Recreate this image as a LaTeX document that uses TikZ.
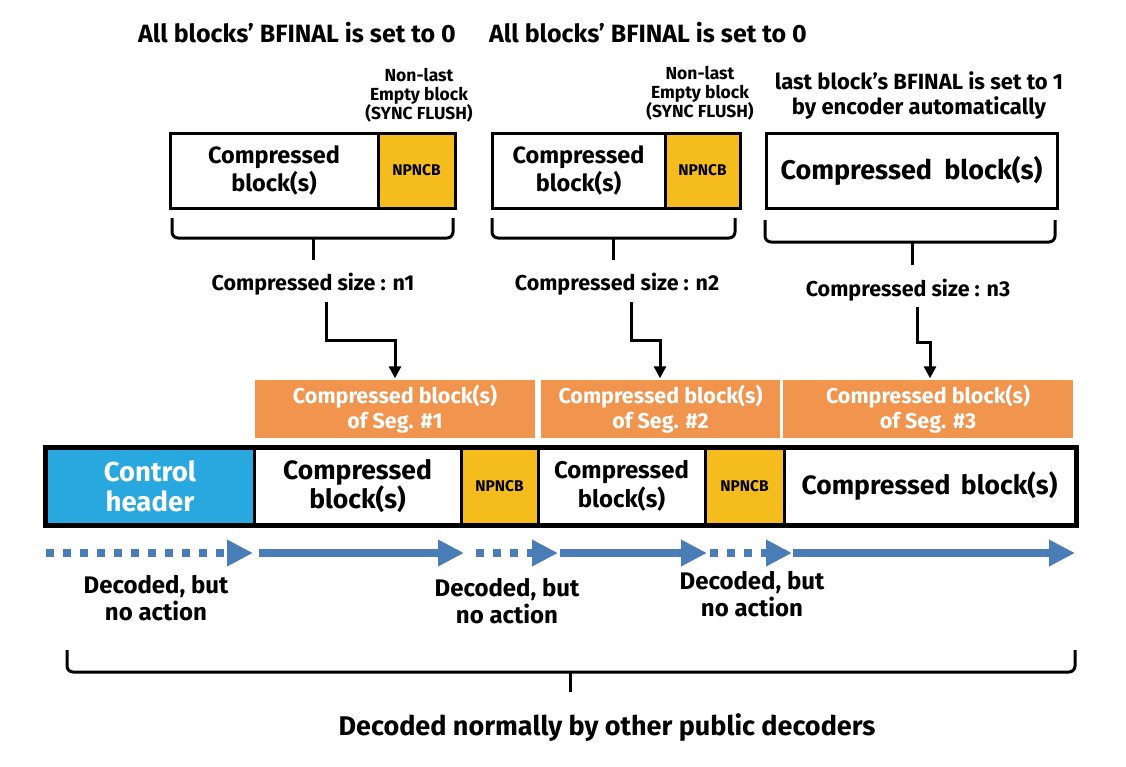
\documentclass[tikz,border=0pt]{standalone}
\usepackage{fontspec}
\setmainfont{Fira Sans}
\usetikzlibrary{arrows.meta,calc}
\definecolor{orng}{HTML}{F0944E}
\definecolor{ylw}{HTML}{F5BC1E}
\definecolor{hdr}{HTML}{29A8E0}
\definecolor{arb}{HTML}{4A7CB8}
\newcommand\fs[2]{\fontsize{#1}{#2}\selectfont}
\begin{document}
\begin{tikzpicture}[x=1pt,y=-1pt,
  box/.style={draw=black, line width=3pt, inner sep=0pt, align=center, anchor=center},
  topbox/.style={box, minimum height=75pt},
  rowbox/.style={box, minimum height=76pt},
  seg/.style={draw=white, line width=1.5pt, fill=orng, text=white, minimum height=60pt, inner sep=0pt, align=center, font=\bfseries\fs{21.5}{25}},
  lbl/.style={align=center, inner sep=0pt},
  brkline/.style={line width=3pt, black},
  elb/.style={line width=3pt, black, -{Triangle[length=12pt,width=12pt]}},
  flow/.style={line width=8pt, arb, -{Triangle[length=26pt,width=25pt]}},
  dflow/.style={flow, dash pattern=on 8pt off 9pt},
  npn/.style={font=\bfseries\fs{15.5}{17}, fill=ylw}
]
\useasboundingbox[fill=white] (0,0) rectangle (1126,766);

% titles
\node[lbl, font=\bfseries\fs{25}{28}] (t1) at (297,33) {All blocks’ BFINAL is set to 0};
\node[lbl, font=\bfseries\fs{25}{28}] (t2) at (648,33) {All blocks’ BFINAL is set to 0};
\node[lbl, font=\bfseries\fs{17.5}{19}] (nl1) at (419,95) {Non-last\\Empty block\\(SYNC FLUSH)};
\node[lbl, font=\bfseries\fs{17.5}{19}] (nl2) at (700,93) {Non-last\\Empty block\\(SYNC FLUSH)};
\node[lbl, font=\bfseries\fs{22}{25}] (lb) at (919,96) {last block’s BFINAL is set to 1\\by encoder automatically};

% top boxes
\node[topbox, minimum width=208pt, font=\bfseries\fs{23.5}{28}] (b1c) at (274,170.5) {Compressed\\block(s)};
\node[topbox, npn, minimum width=77pt] (b1n) at (416.5,170.5) {NPNCB};
\node[topbox, minimum width=173pt, font=\bfseries\fs{23.5}{28}] (b2c) at (578.5,170.5) {Compressed\\block(s)};
\node[topbox, npn, minimum width=75pt] (b2n) at (702.5,170.5) {NPNCB};
\node[topbox, minimum width=291pt, font=\bfseries\fs{27}{30}] (b3) at (911.5,170.5) {Compressed\hspace{0.45em}block(s)};

% brackets
\draw[brkline, rounded corners=6pt] (172,218) -- (172,238) -- (453,238) -- (453,218);
\draw[brkline] (313,238) -- (313,260);
\draw[brkline, rounded corners=6pt] (492,218) -- (492,238) -- (735,238) -- (735,218);
\draw[brkline] (613,238) -- (613,260);
\draw[brkline, rounded corners=6pt] (765,220) -- (765,242) -- (1055,242) -- (1055,220);
\draw[brkline] (912,242) -- (912,265);

% compressed sizes
\node[lbl, font=\bfseries\fs{21.5}{24}] (cs1) at (313,284) {Compressed size : n1};
\node[lbl, font=\bfseries\fs{21.5}{24}] (cs2) at (617,284) {Compressed size : n2};
\node[lbl, font=\bfseries\fs{21.5}{24}] (cs3) at (908,290) {Compressed size : n3};

% segment boxes
\node[seg, minimum width=282pt] (o1) at (395,409) {Compressed block(s)\\of Seg. \#1};
\node[seg, minimum width=241pt] (o2) at (660.5,409) {Compressed block(s)\\of Seg. \#2};
\node[seg, minimum width=292pt] (o3) at (928,409) {Compressed block(s)\\of Seg. \#3};

% elbow arrows
\coordinate (e1) at (326,302); \coordinate (k1) at (395,340);
\coordinate (e2) at (631,302); \coordinate (k2) at (660,340);
\coordinate (e3) at (917,307); \coordinate (k3) at (930,342);
\draw[elb] (e1) |- (k1) -- (k1 |- o1.north);
\draw[elb] (e2) |- (k2) -- (k2 |- o2.north);
\draw[elb] (e3) |- (k3) -- (k3 |- o3.north);

% main row
\node[rowbox, minimum width=208pt, fill=hdr, text=white, font=\bfseries\fs{27.5}{30}] (ch) at (150,486) {Control\\header};
\node[rowbox, minimum width=207pt, font=\bfseries\fs{26.5}{29}] (r1) at (357.5,486) {Compressed\\block(s)};
\node[rowbox, npn, minimum width=77pt] (n1) at (499.5,486) {NPNCB};
\node[rowbox, minimum width=167pt, font=\bfseries\fs{24}{29}] (r2) at (621.5,486) {Compressed\\block(s)};
\node[rowbox, npn, minimum width=79pt] (n2) at (744.5,486) {NPNCB};
\node[rowbox, minimum width=291pt, font=\bfseries\fs{26.5}{29}] (r3) at (929.5,486) {Compressed\hspace{0.4em}block(s)};
\draw[line width=4pt] (ch.north west) rectangle (r3.south east);

% flow arrows
\coordinate (f0) at (46,553);  \coordinate (f1) at (253,553);
\coordinate (f2) at (259,553); \coordinate (f3) at (464,553);
\coordinate (f4) at (476,553); \coordinate (f5) at (558,553);
\coordinate (f6) at (560,553); \coordinate (f7) at (707,553);
\coordinate (f8) at (710,553); \coordinate (f9) at (792,553);
\coordinate (f10) at (793,553); \coordinate (f11) at (1075,553);
\draw[dflow] (f0) -- (f1);
\draw[flow] (f2) -- (f3);
\draw[dflow] (f4) -- (f5);
\draw[flow] (f6) -- (f7);
\draw[dflow] (f8) -- (f9);
\draw[flow] (f10) -- (f11);

\node[lbl, font=\bfseries\fs{24}{27}] (d1) at (156,598) {Decoded, but\\no action};
\node[lbl, font=\bfseries\fs{24}{27}] (d2) at (507,601) {Decoded, but\\no action};
\node[lbl, font=\bfseries\fs{24}{27}] (d3) at (752,594) {Decoded, but\\no action};

% big bracket
\draw[brkline, rounded corners=6pt] (67,650) -- (67,672) -- (1075,672) -- (1075,650);
\draw[brkline] (570,672) -- (570,692);
\node[lbl, font=\bfseries\fs{27}{30}] (bt) at (607,728) {Decoded normally by other public decoders};
\end{tikzpicture}
\end{document}
